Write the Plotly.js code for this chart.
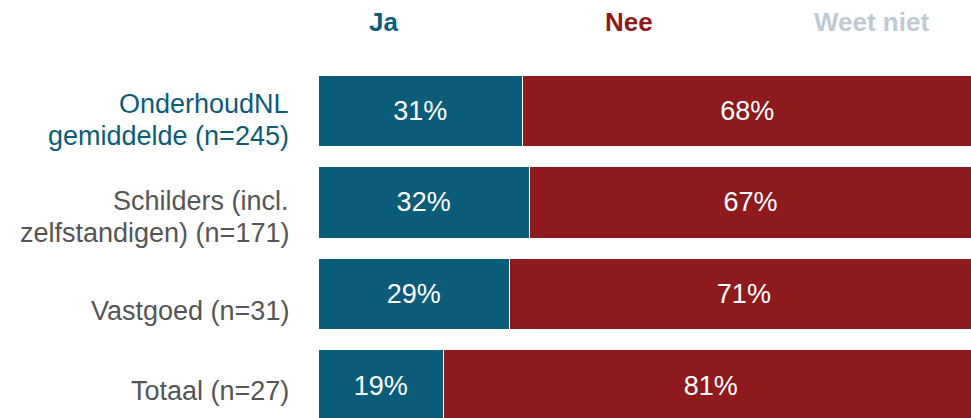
<!DOCTYPE html>
<html>
<head>
<meta charset="utf-8">
<script src="https://cdn.plot.ly/plotly-3.0.1.min.js"></script>
<style>
  html, body { margin: 0; padding: 0; background: #fff; }
  #chart { width: 971px; height: 418px; }
</style>
</head>
<body>
<div id="chart"></div>
<script>
// groups, top to bottom
const categories = [
  "OnderhoudNL<br>gemiddelde (n=245)",
  "Schilders (incl.<br>zelfstandigen) (n=171)",
  "Vastgoed (n=31)",
  "Totaal (n=27)"
];
const seriesNames = ["Ja", "Nee", "Weet niet"];
const jaValues = [31, 32, 29, 19];
const neeValues = [68, 67, 71, 81];
const weetNietValues = [1, 1, 0, 0];

const colors = ["#0b5c79", "#8e1a1d", "#bfcad3"];
const font = "Liberation Sans, Arial, Helvetica, sans-serif";

// keep index positions on the category axis so the range can be set by hand
const ids = categories.map((c, i) => "c" + i);

function barTrace(values, i, showText) {
  return {
    type: "bar",
    orientation: "h",
    name: seriesNames[i],
    x: values,
    y: ids,
    marker: { color: colors[i], line: { color: "#ffffff", width: 1 } },
    texttemplate: "%{x:.0f}%",
    textposition: showText ? "inside" : "none",
    insidetextanchor: "middle",
    textfont: { family: font, size: 27, color: "#ffffff" },
    hoverinfo: "skip"
  };
}

const traces = [
  barTrace(jaValues, 0, true),
  barTrace(neeValues, 1, true),
  barTrace(weetNietValues, 2, false)
];

// category labels: the source draws them a bit below the bar centres
const rowShift = [-9, -15, -17, -5];
const annotations = [];
categories.forEach((label, i) => {
  const lines = label.split("<br>");
  lines.forEach((line, j) => {
    annotations.push({
      xref: "paper", yref: "y",
      x: 0, y: ids[i],
      xanchor: "right", yanchor: "middle",
      xshift: -27,
      yshift: rowShift[i] - (j - (lines.length - 1) / 2) * 32,
      text: line,
      showarrow: false,
      font: { family: font, size: 27, color: i === 0 ? colors[0] : "#555555" }
    });
  });
});

// legend row at the top
const legendX = [0.101, 0.476, 0.847];
seriesNames.forEach((name, i) => {
  annotations.push({
    xref: "paper", yref: "paper",
    x: legendX[i], y: 1.123,
    xanchor: "center", yanchor: "middle",
    text: "<b>" + name + "</b>",
    showarrow: false,
    font: { family: font, size: 26, color: colors[i] }
  });
});

const layout = {
  width: 971,
  height: 418,
  margin: { l: 318, r: 0, t: 65, b: 0 },
  barmode: "stack",
  bargap: 0.22,
  showlegend: false,
  paper_bgcolor: "#ffffff",
  plot_bgcolor: "#ffffff",
  xaxis: {
    range: [0, 98.9],
    showgrid: false,
    zeroline: false,
    showticklabels: false,
    fixedrange: true
  },
  yaxis: {
    type: "category",
    range: [3.353, -0.5],
    showgrid: false,
    zeroline: false,
    showticklabels: false,
    fixedrange: true
  },
  annotations: annotations
};

Plotly.newPlot("chart", traces, layout, { displayModeBar: false, staticPlot: true });
</script>
</body>
</html>
